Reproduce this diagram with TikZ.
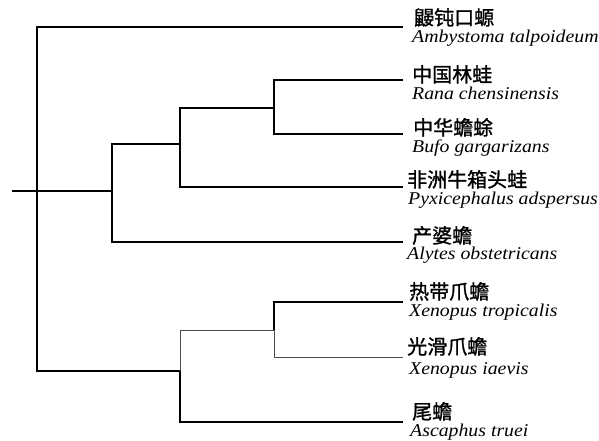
\documentclass[tikz,border=0pt]{standalone}
\usepackage{fontspec}
\newfontfamily\cjk[FakeBold=1.2]{Noto Sans CJK SC}
\newfontfamily\latinit[FakeStretch=1.1]{Liberation Serif}
\tikzset{
  branch/.style={line width=1.3pt, black},
  thinbranch/.style={line width=0.9pt, black!70},
  cn/.style={anchor=base west, inner sep=0pt, font=\cjk\fontsize{20}{20}\selectfont},
  la/.style={anchor=base west, inner sep=0pt, font=\latinit\itshape\fontsize{18}{18}\selectfont},
}
\begin{document}
\begin{tikzpicture}[x=1pt,y=-1pt]
\useasboundingbox (0,0) rectangle (599,441);
% internal nodes
\coordinate (stub) at (12,191);
\coordinate (A) at (37,191);
\coordinate (B) at (112,191);
\coordinate (C) at (180,144);
\coordinate (D) at (274,108);
\coordinate (E) at (180,371);
\coordinate (F) at (274,330);
% leaf ends
\coordinate (l1) at (403,27);
\coordinate (l2) at (403,80);
\coordinate (l3) at (403,134);
\coordinate (l4) at (403,187);
\coordinate (l5) at (403,242);
\coordinate (l6) at (403,302);
\coordinate (l7) at (403,357);
\coordinate (l8) at (403,422);
% branches
\draw[branch] (stub) -- (B);
\draw[branch] (l1) -| (A) |- (E);
\draw[branch] (l5) -| (B) |- (C);
\draw[branch] (l4) -| (C) |- (D);
\draw[branch] (l3) -| (D) |- (l2);
\draw[branch] (l8) -| (E);
\draw[thinbranch] (E) |- (F);
\draw[branch] (l6) -| (F);
\draw[thinbranch] (F) |- (l7);
% labels
\node[cn] (a1) at (414,25) {鼹钝口螈};
\node[la] (b1) at (412,43) {Ambystoma talpoideum};
\node[cn] (a2) at (412,82) {中国林蛙};
\node[la] (b2) at (412,100) {Rana chensinensis};
\node[cn] (a3) at (413,135) {中华蟾蜍};
\node[la] (b3) at (412,152) {Bufo gargarizans};
\node[cn] (a4) at (407,187) {非洲牛箱头蛙};
\node[la] (b4) at (408,204) {Pyxicephalus adspersus};
\node[cn] (a5) at (412,243) {产婆蟾};
\node[la] (b5) at (407,259) {Alytes obstetricans};
\node[cn] (a6) at (409,299) {热带爪蟾};
\node[la] (b6) at (409,316) {Xenopus tropicalis};
\node[cn] (a7) at (407,354) {光滑爪蟾};
\node[la] (b7) at (409,374) {Xenopus iaevis};
\node[cn] (a8) at (412,419) {尾蟾};
\node[la] (b8) at (410,436) {Ascaphus truei};
\end{tikzpicture}
\end{document}
